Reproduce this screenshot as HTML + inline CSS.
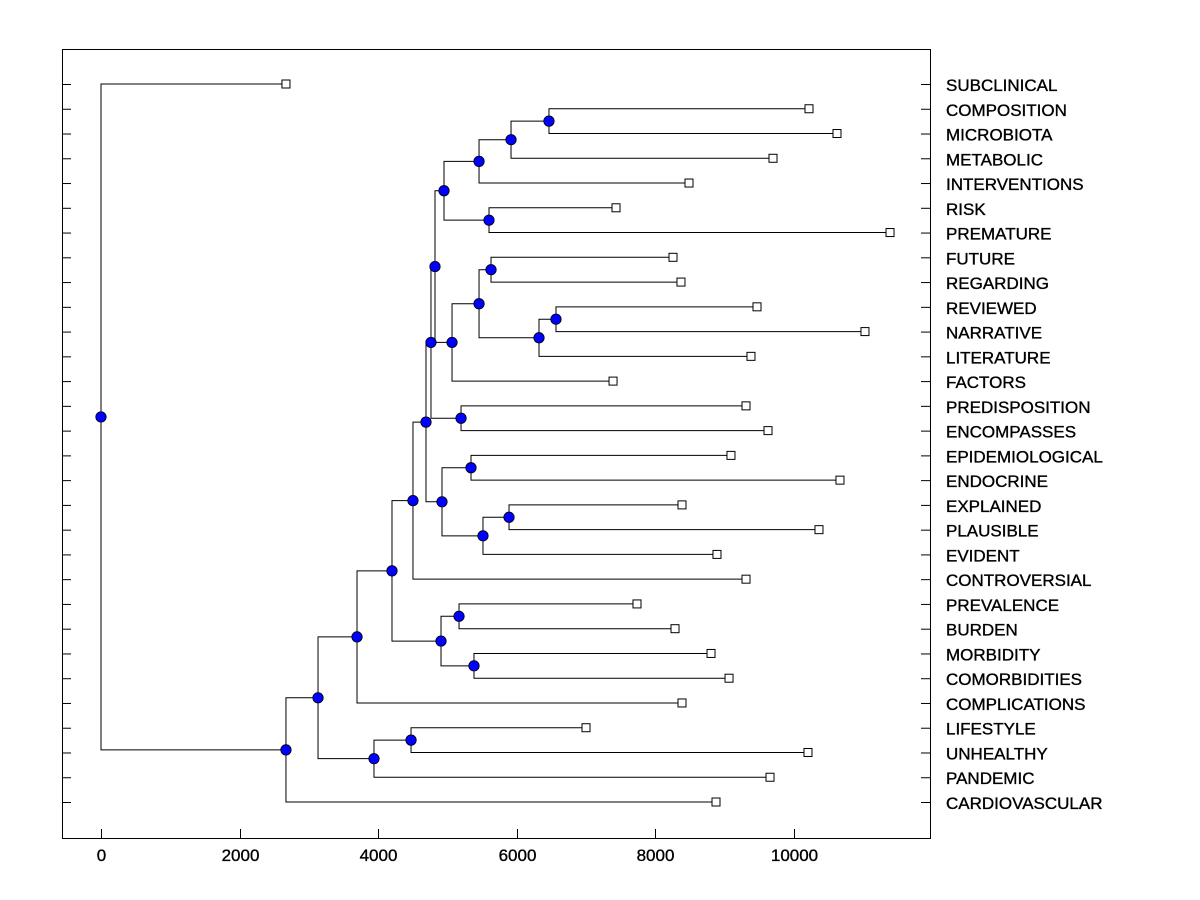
<!DOCTYPE html>
<html><head><meta charset="utf-8"><style>
html,body{margin:0;padding:0;background:#fff;}
svg{display:block;font-family:"Liberation Sans",Arial,sans-serif;}
</style></head><body>
<svg id="chart" width="1200" height="900" viewBox="0 0 1200 900" xmlns="http://www.w3.org/2000/svg">
<rect x="0" y="0" width="1200" height="900" fill="#fff"/>
<rect x="62.5" y="49.5" width="868" height="789" fill="none" stroke="#000" stroke-width="1"/>
<g id="links"></g><g id="marks"></g><g id="axes"></g>
</svg>
<script>
const leafLabels = ["SUBCLINICAL","COMPOSITION","MICROBIOTA","METABOLIC","INTERVENTIONS","RISK","PREMATURE","FUTURE","REGARDING","REVIEWED","NARRATIVE","LITERATURE","FACTORS","PREDISPOSITION","ENCOMPASSES","EPIDEMIOLOGICAL","ENDOCRINE","EXPLAINED","PLAUSIBLE","EVIDENT","CONTROVERSIAL","PREVALENCE","BURDEN","MORBIDITY","COMORBIDITIES","COMPLICATIONS","LIFESTYLE","UNHEALTHY","PANDEMIC","CARDIOVASCULAR"];
const leafValues = [2671,10224,10628,9704,8491,7437,11394,8260,8375,9473,11032,9386,7394,9314,9632,9097,10671,8390,10368,8895,9314,7740,8289,8809,9069,8390,7004,10209,9661,8881];
const mergeLeft  = [1,30,31,5,32,7,9,36,35,38,34,13,40,15,17,44,43,42,47,21,23,49,48,52,26,54,53,56,0];
const mergeRight = [2,3,4,6,33,8,10,11,37,12,39,14,41,16,18,19,45,46,20,22,24,50,51,25,27,28,55,29,57];
const mergeHeights = [6469,5921,5459,5603,4953,5632,6570,6325,5459,5069,4823,5199,4765,5343,5892,5516,4924,4693,4505,5170,5386,4910,4202,3697,4477,3942,3134,2671,0];
const xTicks = [0,2000,4000,6000,8000,10000];

const NS="http://www.w3.org/2000/svg";
const xs = v => 101 + v*0.06925;
const ys = i => 84 + i*(802-84)/29;
function mk(tag, attrs, parent){const e=document.createElementNS(NS,tag);for(const k in attrs)e.setAttribute(k,attrs[k]);parent.appendChild(e);return e;}
const links=document.getElementById('links'), marks=document.getElementById('marks'), axes=document.getElementById('axes');

const nx=[], ny=[];
leafValues.forEach((v,i)=>{nx[i]=xs(v);ny[i]=ys(i);});
const n=leafValues.length;
mergeHeights.forEach((h,k)=>{
  const id=n+k, a=mergeLeft[k], b=mergeRight[k];
  const x=xs(h);
  nx[id]=x; ny[id]=(ny[a]+ny[b])/2;
  const p=mk('path',{d:`M${nx[a]} ${ny[a]}H${x}V${ny[b]}H${nx[b]}`,fill:'none',stroke:'#000','stroke-width':1},links);
  
  
});
mergeHeights.forEach((h,k)=>{
  const id=n+k;
  const c=mk('circle',{cx:nx[id],cy:ny[id],r:5.2,fill:'#0000ff',stroke:'#000','stroke-width':0.8},marks);
  
  
});
leafValues.forEach((v,i)=>{
  const r=mk('rect',{x:nx[i]-4,y:ny[i]-4,width:8,height:8,fill:'#fff',stroke:'#000','stroke-width':1},marks);
  
  
  const tl=mk('line',{x1:62,x2:71,y1:ny[i]+0.5,y2:ny[i]+0.5,stroke:'#000'},axes);
  
  
  const tr=mk('line',{x1:921,x2:930,y1:ny[i]+0.5,y2:ny[i]+0.5,stroke:'#000'},axes);
  
  
  const t=mk('text',{x:946,y:ny[i]+7,'font-size':17,fill:'#000',stroke:'#000','stroke-width':0.35},axes);
  t.textContent=leafLabels[i];
  
  
});
xTicks.forEach(v=>{
  const x=Math.round(xs(v))+0.5;
  const l=mk('line',{x1:x,x2:x,y1:829,y2:838,stroke:'#000'},axes);
  
  
  const t=mk('text',{x:x,y:861,'font-size':17,'text-anchor':'middle',fill:'#000',stroke:'#000','stroke-width':0.35},axes);
  t.textContent=String(v);
  
  
});
</script>
</body></html>
